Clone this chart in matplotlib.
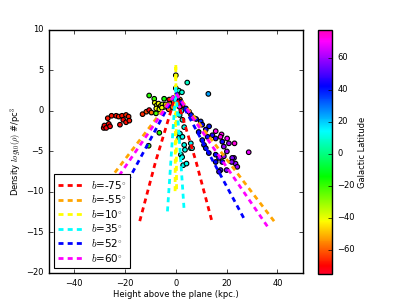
import numpy as np
import matplotlib
matplotlib.use("Agg")
import matplotlib.pyplot as plt

plt.style.use("classic")

# observed stars: height above plane (kpc), log10 density, galactic latitude (deg)
z_obs = [-28.4, -28.1, -27.4, -26.8, -26.4, -25.9, -25.3, -23.5, -22.5, -22.0,
         -21.2, -20.7, -19.6, -19.6, -18.6, -18.3,
         -13.1, -11.6, -10.5, -9.6,
         -10.5, -8.5, -4.6, -7.8, -6.5, -10.7,
         -8.3, -7.5, -6.8, -6.0, -5.3, -4.5, -7.7, -6.5, -5.5, -4.0,
         -3.4, -2.5, -1.5, -0.8, -2.8, 1.6,
         0.0, 4.5, 12.8,
         0.0, 1.2, 2.4, 0.5,
         0.5, 1.2, 0.0,
         -2.6, 2.0, 2.6,
         -1.0, 1.5,
         1.3, 1.6, 2.6, 3.3, 3.6, 2.0, 5.9, 5.9, 2.9, 4.2, 2.6, 3.3, 6.4, 2.5, 1.5, 2.2,
         5.2, 7.2, 9.8, 10.4, 11.8, 13.1, 14.4, 15.7, 18.3, 10.4, 11.1, 11.8, 13.0,
         15.7, 17.0, 18.3, 15.7, 17.6, 17.0, 6.0, 8.0, 4.0, 9.0, 12.5,
         15.7, 18.0, 20.2, 23.1, 28.7, 17.6,
         18.9, 20.9, 18.9, 22.9, 23.5, 20.1, 22.2, 24.2, 22.0, 20.0]
logrho_obs = [-2.1, -1.8, -2.1, -0.9, -1.6, -1.9, -0.6, -0.6, -0.7, -1.7,
              -0.6, -1.1, -0.5, -1.4, -0.7, -1.2,
              -0.4, -0.1, 0.1, -0.2,
              1.9, 1.5, 1.5, -0.3, -2.7, -4.3,
              1.0, 0.7, 0.9, 0.6, 0.8, 0.5, 0.3, 0.2, 0.4, 0.8,
              0.6, 0.9, 0.4, 1.1, 0.2, 1.4,
              4.4, 3.5, 2.1,
              2.8, 2.5, 2.3, 2.0,
              1.5, 1.2, 1.0,
              1.4, 1.1, 0.7,
              1.6, 0.5,
              -3.3, -2.8, -3.2, -4.2, -4.8, -5.4, -4.0, -4.6, -6.7, -6.5, -1.1, -2.0, -4.6, -5.7, -0.5, 0.0,
              -0.1, -0.9, -1.3, -1.7, -2.3, -1.9, -3.0, -3.4, -3.8, -3.6, -4.2, -4.6, -5.2,
              -5.4, -5.8, -6.3, -6.3, -7.3, -7.5, -0.5, -1.0, 0.3, -2.6, -3.2,
              -2.5, -2.9, -3.4, -4.0, -5.1, -3.2,
              -4.4, -4.0, -5.6, -5.8, -6.5, -5.0, -5.8, -6.9, -6.3, -7.3]
b_obs = [-70, -70, -72, -68, -70, -71, -68, -69, -67, -70,
         -68, -70, -66, -69, -67, -68,
         -66, -62, -72, -58,
         -18, -20, -16, -22, -18, -20,
         -40, -38, -42, -40, -36, -40, -42, -38, -40, -44,
         -55, -52, -56, -50, -58, -54,
         -38, 8, 25,
         5, 8, 10, 6,
         42, 45, 40,
         -72, -70, -73,
         72, 70,
         12, 12, 12, 12, 12, 12, 14, 14, 12, 12, 12, 12, 14, 12, 12, 14,
         40, 42, 38, 42, 44, 40, 45, 46, 44, 40, 42, 40, 44,
         44, 46, 45, 42, 48, 46, 40, 42, 38, 42, 44,
         72, 73, 70, 74, 68, 72,
         58, 60, 58, 56, 58, 60, 56, 58, 57, 55]

# model profiles (one branch, mirrored about z = 0)
model_b = [-75, -55, 10, 35, 52, 60]
model_colors = ["red", "orange", "yellow", "cyan", "blue", "magenta"]
model_z = [[0.0, 8.0, 14.2], [0.0, 39.4], [0.0, 0.3], [0.0, 3.3], [0.0, 27.4], [0.0, 36.6]]
model_logrho = [[2.0, -6.3, -13.6], [2.2, -13.9], [5.8, -9.9], [2.8, -12.4], [2.3, -13.6], [2.2, -14.5]]

fig = plt.figure(figsize=(4.07, 3.05), dpi=100)
ax = fig.add_axes([0.12, 0.105, 0.624, 0.797])
cax = fig.add_axes([0.781, 0.102, 0.034, 0.80])

sc = ax.scatter(z_obs, logrho_obs, c=b_obs, cmap="gist_rainbow", vmin=-75, vmax=77.5,
                s=11, linewidths=0.8, edgecolors="k", zorder=2)

for b, col, zz, yy in zip(model_b, model_colors, model_z, model_logrho):
    zz = np.asarray(zz)
    yy = np.asarray(yy)
    z_full = np.concatenate([-zz[::-1], zz[1:]])
    y_full = np.concatenate([yy[::-1], yy[1:]])
    ax.plot(z_full, y_full, color=col, lw=2, dashes=(3.6, 3.0), zorder=3,
            label=r"$b$=%d$^{\circ}$" % b)

ax.set_xlim(-50, 50)
ax.set_ylim(-20, 10)
ax.set_xticks([-40, -20, 0, 20, 40])
ax.set_yticks([-20, -15, -10, -5, 0, 5, 10])
ax.tick_params(labelsize=6, length=3)
ax.set_xlabel("Height above the plane (kpc.)", fontsize=6, labelpad=2)
ax.set_ylabel(r"Density $log_{10}(\rho)$ #/pc$^3$", fontsize=6, labelpad=2)

leg = ax.legend(loc="lower left", fontsize=7.5, handlelength=2.6, labelspacing=0.25,
                borderaxespad=0.5, handletextpad=0.5, numpoints=1)
leg.get_frame().set_linewidth(0.8)

cb = fig.colorbar(sc, cax=cax)
cb.set_ticks([-60, -40, -20, 0, 20, 40, 60])
cb.ax.tick_params(labelsize=6, length=3)
cb.set_label("Galactic Latitude", fontsize=6, labelpad=2)

fig.savefig("out.png", dpi=100, facecolor="white")
